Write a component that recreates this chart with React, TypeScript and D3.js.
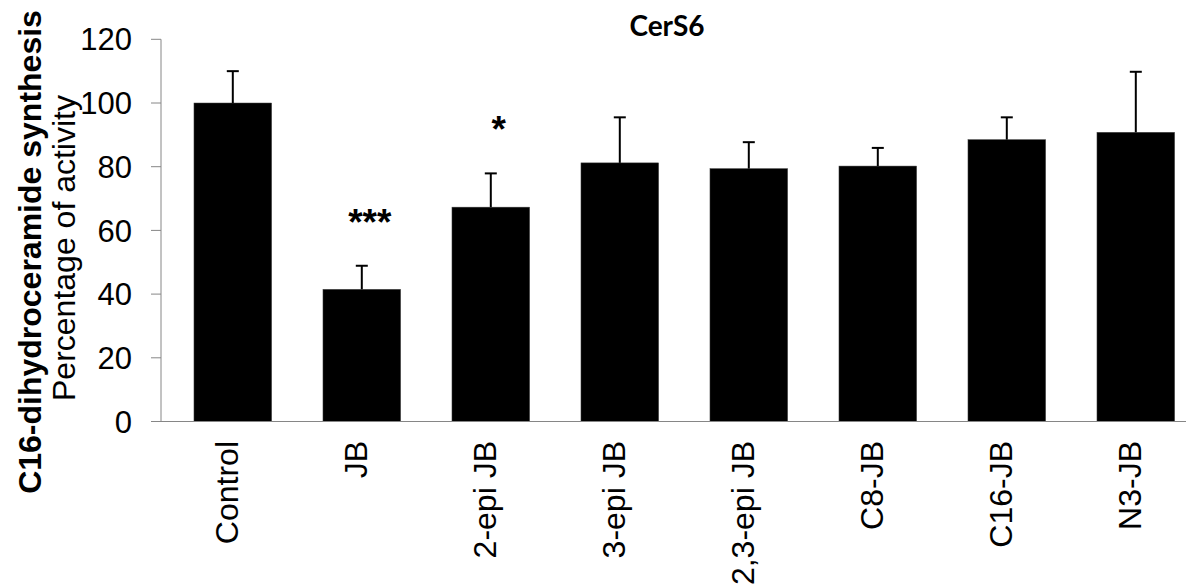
import React from "react";
import * as d3 from "d3";

const categories = ["Control", "JB", "2-epi JB", "3-epi JB", "2,3-epi JB", "C8-JB", "C16-JB", "N3-JB"];
const values = [100, 41.5, 67.3, 81.2, 79.4, 80.2, 88.5, 90.8];
const errors = [10, 7.4, 10.6, 14.3, 8.3, 5.7, 7.0, 19.0];
const significance = ["", "***", "*", "", "", "", "", ""];
const yTicks = [0, 20, 40, 60, 80, 100, 120];
const title = "CerS6";
const yTitleBold = "C16-dihydroceramide synthesis";
const yTitle = "Percentage of activity";

const W = 1186;
const H = 586;
const AXIS_LEFT = 161;
const AXIS_COLOR = "#868686";
const FONT = "'Liberation Sans', Arial, sans-serif";

export default function App() {
  const y = d3.scaleLinear().domain([0, 120]).range([421.5, 39.3]);
  const step = 129;
  const x = d3
    .scaleBand<string>()
    .domain(categories)
    .range([168.3, 168.3 + step * categories.length])
    .paddingInner(0.398)
    .paddingOuter(0.199);
  const bw = x.bandwidth();

  return (
    <svg
      width={W}
      height={H}
      viewBox={`0 0 ${W} ${H}`}
      style={{ position: "absolute", left: 0, top: 0, background: "#fff" }}
    >
      {/* title */}
      <text
        x={667}
        y={36}
        textAnchor="middle"
        fontFamily="Lato, 'Open Sans', sans-serif"
        fontWeight="bold"
        fontSize={28}
        fill="#000"
      >
        {title}
      </text>

      {/* y axis titles */}
      <text
        transform={`translate(41,252) rotate(-90)`}
        textAnchor="middle"
        fontFamily={FONT}
        fontWeight="bold"
        fontSize={32}
        fill="#000"
      >
        {yTitleBold}
      </text>
      <text
        transform={`translate(75,248) rotate(-90)`}
        textAnchor="middle"
        fontFamily={FONT}
        fontSize={32}
        fill="#000"
      >
        {yTitle}
      </text>

      {/* bars */}
      {categories.map((c, i) => (
        <rect
          key={c}
          x={x(c)!}
          y={y(values[i])}
          width={bw}
          height={y(0) - y(values[i])}
          fill="#000"
          stroke="#444"
          strokeWidth={0.5}
        />
      ))}

      {/* error bars */}
      {categories.map((c, i) => {
        const cx = x(c)! + bw / 2;
        const top = y(values[i] + errors[i]);
        return (
          <g key={"e" + c} stroke="#000" strokeWidth={2}>
            <line x1={cx} x2={cx} y1={y(values[i])} y2={top} />
            <line x1={cx - 6} x2={cx + 6} y1={top} y2={top} />
          </g>
        );
      })}

      {/* significance */}
      {categories.map((c, i) =>
        significance[i] ? (
          <text
            key={"s" + c}
            x={x(c)! + bw / 2 + 8}
            y={y(values[i] + errors[i] + 16) + 20}
            textAnchor="middle"
            fontFamily={FONT}
            fontWeight="bold"
            fontSize={37}
            fill="#000"
          >
            {significance[i]}
          </text>
        ) : null
      )}

      {/* y axis */}
      <line x1={AXIS_LEFT} x2={AXIS_LEFT} y1={y(120)} y2={y(0)} stroke={AXIS_COLOR} strokeWidth={1} />
      {yTicks.map((t) => (
        <g key={"t" + t}>
          <line x1={AXIS_LEFT - 10} x2={AXIS_LEFT} y1={y(t)} y2={y(t)} stroke={AXIS_COLOR} strokeWidth={1} />
          <text
            x={132}
            y={y(t)}
            dy="0.36em"
            textAnchor="end"
            fontFamily={FONT}
            fontSize={31}
            fill="#000"
          >
            {t}
          </text>
        </g>
      ))}

      {/* x axis */}
      <line x1={AXIS_LEFT - 10} x2={W} y1={y(0)} y2={y(0)} stroke={AXIS_COLOR} strokeWidth={1} />
      {categories.map((c) => {
        const cx = x(c)! + bw / 2;
        return (
          <text
            key={"l" + c}
            transform={`translate(${cx + 5},441) rotate(-90)`}
            textAnchor="end"
            fontFamily={FONT}
            fontSize={32}
            fill="#000"
          >
            {c}
          </text>
        );
      })}
    </svg>
  );
}
